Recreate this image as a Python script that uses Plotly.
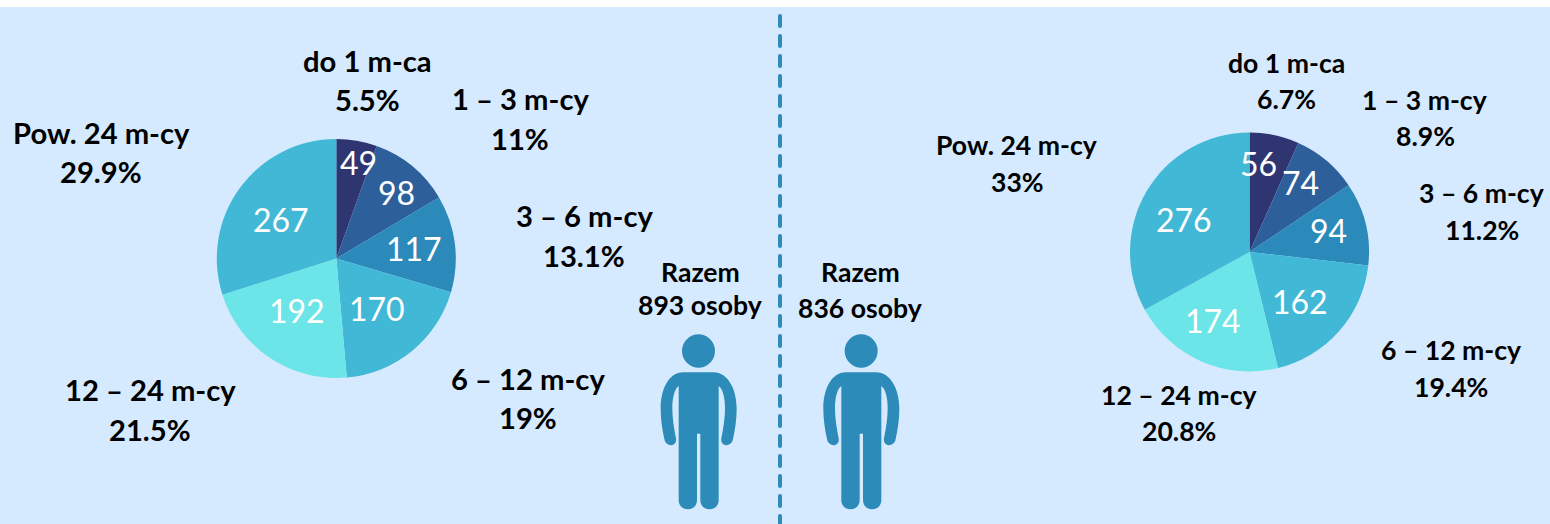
import plotly.graph_objects as go

categories = ["do 1 m-ca", "1 – 3 m-cy", "3 – 6 m-cy", "6 – 12 m-cy", "12 – 24 m-cy", "Pow. 24 m-cy"]
values_left = [49, 98, 117, 170, 192, 267]
values_right = [56, 74, 94, 162, 174, 276]
pct_left = ["5.5%", "11%", "13.1%", "19%", "21.5%", "29.9%"]
pct_right = ["6.7%", "8.9%", "11.2%", "19.4%", "20.8%", "33%"]
total_left = "893 osoby"
total_right = "836 osoby"
total_title = "Razem"
colors = ["#2F3570", "#2D5F9A", "#2C8ABA", "#41B8D5", "#6CE5E8", "#41B8D5"]

W, H = 1550, 524
BG = "#D5EAFF"
ICON = "#2D8BBA"
FONT = "Lato"


def pie(vals, cx, cy, r):
    return go.Pie(
        values=vals, labels=categories, sort=False, direction="clockwise", rotation=0,
        domain=dict(x=[(cx - r) / W, (cx + r) / W], y=[1 - (cy + r) / H, 1 - (cy - r) / H]),
        marker=dict(colors=colors, line=dict(width=0)),
        textinfo="none",
        showlegend=False, hoverinfo="label+value+percent",
    )


fig = go.Figure([pie(values_left, 336.3, 258.5, 119.5), pie(values_right, 1249.5, 252, 119.5)])

pos_left = [(367, 61, 100), (520, 99, 139), (584, 216, 256), (528, 379, 418), (150, 390, 430), (101, 133, 172)]
pos_right = [(1286, 64, 100), (1425, 101, 137), (1482, 194, 231), (1451, 351, 388), (1179, 396, 432), (1017, 146, 183)]
val_pos_left = [(358, 162), (396, 192), (414, 248), (377, 308), (297, 310), (281, 219)]
val_pos_right = [(1258, 163), (1300, 182), (1328, 230), (1300, 301), (1213, 320), (1184, 219)]


def txt(x, y, s, size, color="#000000", bold=True):
    fig.add_annotation(x=x, y=y, xref="x", yref="y", text=f"<b>{s}</b>" if bold else str(s), showarrow=False,
                       xanchor="center", yanchor="middle",
                       font=dict(family=FONT, size=size, color=color))


for cat, p, (x, y1, y2) in zip(categories, pct_left, pos_left):
    txt(x, y1 - 1, cat, 29.2)
    txt(x, y2 - 1, p, 29.2)
for cat, p, (x, y1, y2) in zip(categories, pct_right, pos_right):
    txt(x, y1 - 1, cat, 26.6)
    txt(x, y2 - 1, p, 26.6)
for v, (x, y) in zip(values_left, val_pos_left):
    txt(x, y, v, 32, "white", False)
for v, (x, y) in zip(values_right, val_pos_right):
    txt(x, y, v, 32, "white", False)
txt(700, 272, total_title, 26.6)
txt(700, 305, total_left, 26.6)
txt(860, 272, total_title, 26.6)
txt(860, 308, total_right, 26.6)

# background and divider
fig.add_shape(type="rect", x0=0, x1=W, y0=7, y1=H, fillcolor=BG, line_width=0, layer="below")
fig.add_shape(type="line", x0=780, x1=780, y0=16, y1=H, line=dict(color=ICON, width=4, dash="10px,10px"), layer="below")


# person icon, decoration outline given in local icon units
def P(ox, oy, cmds):
    out = []
    for c in cmds:
        if isinstance(c, str):
            out.append(c)
        else:
            out.append(f"{ox + c[0] / 3:.2f},{oy + c[1] / 3:.2f}")
    return " ".join(out)


BODY = ["M", (130, 367), "L", (220, 367), "C", (265, 367), (290, 420), (290, 475),
        "C", (290, 510), (285, 540), (279, 567), "C", (275, 592), (240, 592), (244, 565),
        "C", (250, 535), (255, 505), (255, 475), "C", (255, 440), (247, 415), (236, 408),
        "L", (236, 750), "C", (236, 787), (181, 787), (181, 750), "L", (181, 551), "L", (171, 551),
        "L", (171, 750), "C", (171, 787), (116, 787), (116, 750), "L", (116, 408),
        "C", (105, 415), (97, 440), (97, 475), "C", (97, 505), (102, 535), (108, 565),
        "C", (112, 592), (77, 592), (73, 567), "C", (67, 540), (62, 510), (62, 475),
        "C", (62, 420), (85, 367), (130, 367), "Z"]
for ox in (640, 640 + 488 / 3):
    fig.add_shape(type="path", path=P(ox, 250, BODY), fillcolor=ICON, line_width=0, layer="below")
    fig.add_shape(type="circle", x0=ox + 126 / 3, x1=ox + 225 / 3, y0=250 + 253 / 3, y1=250 + 353 / 3,
                  fillcolor=ICON, line_width=0, layer="below")

fig.update_layout(
    width=W, height=H, margin=dict(l=0, r=0, t=0, b=0),
    paper_bgcolor="white", plot_bgcolor="rgba(0,0,0,0)",
    xaxis=dict(range=[0, W], visible=False, fixedrange=True),
    yaxis=dict(range=[H, 0], visible=False, fixedrange=True),
)
post = ("document.body.style.margin='0';"
        "document.querySelectorAll('.shapelayer path').forEach(function(p){"
        "if(p.style.strokeDasharray&&p.style.strokeDasharray!=='none'){p.style.strokeLinecap='round';}});")
fig.write_html("out.html", post_script=post, config=dict(displayModeBar=False))
